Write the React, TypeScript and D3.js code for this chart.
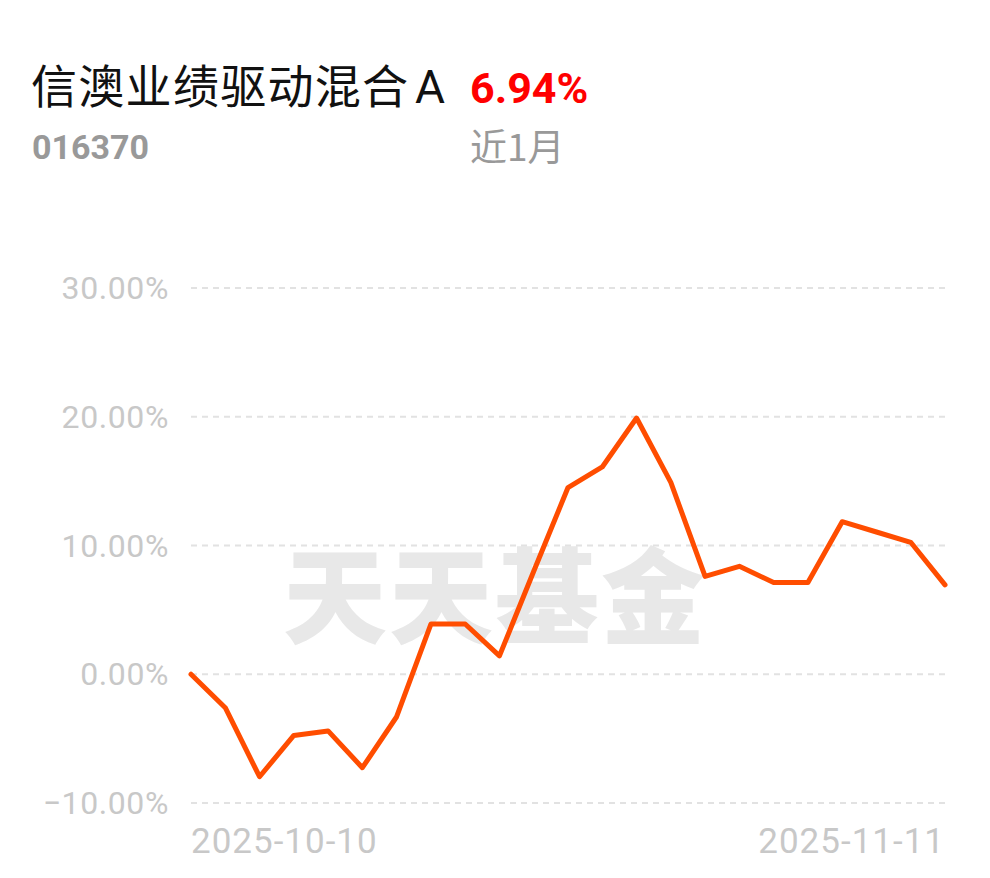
import React from "react";
import * as d3 from "d3";

const dates = [
  "2025-10-10", "2025-10-13", "2025-10-14", "2025-10-15", "2025-10-16", "2025-10-17",
  "2025-10-20", "2025-10-21", "2025-10-22", "2025-10-23", "2025-10-24",
  "2025-10-27", "2025-10-28", "2025-10-29", "2025-10-30", "2025-10-31",
  "2025-11-03", "2025-11-04", "2025-11-05", "2025-11-06", "2025-11-07",
  "2025-11-10", "2025-11-11",
];
const returns = [
  0, -2.6, -7.96, -4.75, -4.4, -7.26,
  -3.3, 3.9, 3.9, 1.43, 8.0,
  14.5, 16.1, 19.9, 14.9, 7.6,
  8.38, 7.13, 7.13, 11.85, 11.05,
  10.25, 6.94,
];
const yTicks = [-10, 0, 10, 20, 30];
const xTickLabels = ["2025-10-10", "2025-11-11"];

const title = "信澳业绩驱动混合";
const titleSuffix = "A";
const code = "016370";
const changeText = "6.94%";
const periodText = "近1月";
const watermark = "天天基金";

export default function App() {
  const W = 990, H = 878;
  const left = 191, right = 945, top = 288, bottom = 803;
  const x = d3.scalePoint<string>().domain(dates).range([left, right]);
  const y = d3.scaleLinear().domain([-10, 30]).range([bottom, top]);
  const line = d3.line<number>()
    .x((_, i) => x(dates[i]) as number)
    .y((d) => y(d));
  const sans = "Roboto, 'Noto Sans CJK SC', sans-serif";
  const cjk = "'Noto Sans CJK SC', Roboto, sans-serif";
  return (
    <svg width={W} height={H} style={{ position: "absolute", left: 0, top: 0, background: "#fff" }}>
      <rect width={W} height={H} fill="#fff" />
      <text x={31} y={103} fontFamily={cjk} fontSize={46} fill="#111" letterSpacing={1.3}>{title}</text>
      <text x={415} y={103} fontFamily={sans} fontSize={46} fill="#111">{titleSuffix}</text>
      <text x={470} y={103} fontFamily={sans} fontWeight={700} fontSize={43} fill="#f00">{changeText}</text>
      <text x={32} y={159} fontFamily={sans} fontWeight={700} fontSize={34} fill="#999">{code}</text>
      <text x={470} y={161} fontFamily={cjk} fontSize={37} fill="#999">{periodText}</text>

      <text x={495} y={590} textAnchor="middle" dominantBaseline="central"
        fontFamily="'Noto Sans CJK SC', serif" fontWeight={900} fontSize={104} fill="#e8e8e8"
        letterSpacing={2}>{watermark}</text>

      {yTicks.map((t) => (
        <g key={t}>
          <line x1={left} x2={right} y1={y(t)} y2={y(t)} stroke="#e2e2e2" strokeWidth={2} strokeDasharray="6 5" />
          <text x={169} y={y(t)} textAnchor="end" dominantBaseline="central" fontFamily={sans}
            fontSize={32} fill="#c8c8c8" letterSpacing={0.6}>{`${t.toFixed(2)}%`.replace("-", "−")}</text>
        </g>
      ))}

      <path d={line(returns) ?? ""} fill="none" stroke="#ff4d00" strokeWidth={5}
        strokeLinejoin="round" strokeLinecap="round" />

      <text x={x(xTickLabels[0])} y={853} textAnchor="start" fontFamily={sans} fontSize={35} fill="#c8c8c8" letterSpacing={1}>{xTickLabels[0]}</text>
      <text x={x(xTickLabels[1])} y={853} textAnchor="end" fontFamily={sans} fontSize={35} fill="#c8c8c8" letterSpacing={1}>{xTickLabels[1]}</text>
    </svg>
  );
}
